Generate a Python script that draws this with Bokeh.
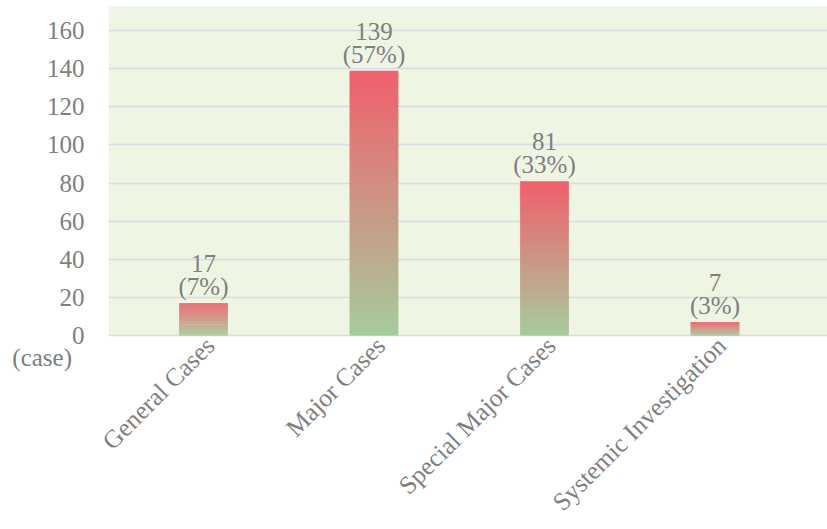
import numpy as np
from bokeh.plotting import figure
from bokeh.models import Range1d, FixedTicker, BoxAnnotation, ColumnDataSource
from bokeh.core.properties import value
from bokeh.embed import file_html
from bokeh.resources import INLINE

categories = ["General Cases", "Major Cases", "Special Major Cases", "Systemic Investigation"]
counts = [17, 139, 81, 7]
percents = ["(7%)", "(57%)", "(33%)", "(3%)"]
y_ticks = [0, 20, 40, 60, 80, 100, 120, 140, 160]
unit_label = "(case)"

FONT = "Liberation Serif"
FS = "25px"
GRAY = "#7f7f7f"
TOP = np.array([241, 95, 108])
BOTTOM = np.array([166, 204, 156])
Y_TOP = 173.2
Y_BOTTOM = -12.04
UNIT_Y = -11.5

p = figure(width=827, height=529, output_backend="svg", toolbar_location=None,
           x_range=Range1d(-0.557, 3.66), y_range=Range1d(Y_BOTTOM, Y_TOP),
           min_border_left=108, min_border_right=0, min_border_top=5, min_border_bottom=0)
p.background_fill_color = "white"
p.border_fill_color = "white"
p.outline_line_color = None

# green plot-area fill from 0 upward
p.add_layout(BoxAnnotation(bottom=0, top=Y_TOP, fill_color="#eef5e3", fill_alpha=1.0,
                           line_color=None, level="image"))

# gradient bars built from stacked slices
N = 80
xs, bots, tops, cols = [], [], [], []
for i, c in enumerate(counts):
    for k in range(N):
        f0, f1 = k / N, min(1.0, (k + 1.6) / N)
        t = (k + 0.5) / N
        rgb = BOTTOM + (TOP - BOTTOM) * t
        xs.append(i)
        bots.append(c * f0)
        tops.append(c * f1)
        cols.append("#%02x%02x%02x" % tuple(int(round(v)) for v in rgb))
src = ColumnDataSource(dict(x=xs, bottom=bots, top=tops, color=cols))
p.vbar(x="x", bottom="bottom", top="top", width=0.285, fill_color="color",
       line_color=None, source=src)

lab = ColumnDataSource(dict(x=list(range(len(counts))), y=counts,
                            num=[str(c) for c in counts], pct=percents))
p.text(x="x", y="y", text="pct", source=lab, text_font=value(FONT), text_font_size=FS,
       text_color=GRAY, text_align="center", text_baseline="bottom", y_offset=-3)
p.text(x="x", y="y", text="num", source=lab, text_font=value(FONT), text_font_size=FS,
       text_color=GRAY, text_align="center", text_baseline="bottom", y_offset=-31)

# y axis (with the unit label as an extra tick label below 0)
p.yaxis.ticker = FixedTicker(ticks=[UNIT_Y] + y_ticks)
p.yaxis.major_label_overrides = {UNIT_Y: unit_label + "\u00a0\u00a0"}
p.yaxis.axis_line_color = None
p.yaxis.major_tick_line_color = None
p.yaxis.minor_tick_line_color = None
p.yaxis.major_tick_out = 0
p.yaxis.major_tick_in = 0
p.yaxis.major_label_text_font = FONT
p.yaxis.major_label_text_font_size = FS
p.yaxis.major_label_text_color = GRAY
p.yaxis.major_label_standoff = 24

label_pos = [i + 0.04 for i in range(len(categories))]
p.xaxis.ticker = FixedTicker(ticks=label_pos)
p.xaxis.major_label_overrides = {pos: c for pos, c in zip(label_pos, categories)}
p.xaxis.axis_line_color = None
p.xaxis.major_tick_line_color = None
p.xaxis.minor_tick_line_color = None
p.xaxis.major_tick_out = 0
p.xaxis.major_tick_in = 0
p.xaxis.major_label_text_font = FONT
p.xaxis.major_label_text_font_size = "25.5px"
p.xaxis.major_label_text_color = GRAY
p.xaxis.major_label_orientation = np.pi / 4
p.xaxis.major_label_standoff = -17

p.xgrid.grid_line_color = None
p.ygrid.ticker = FixedTicker(ticks=y_ticks)
p.ygrid.grid_line_color = "#d6dce6"
p.ygrid.grid_line_width = 1.5

open("out.html", "w").write(file_html(p, INLINE))
